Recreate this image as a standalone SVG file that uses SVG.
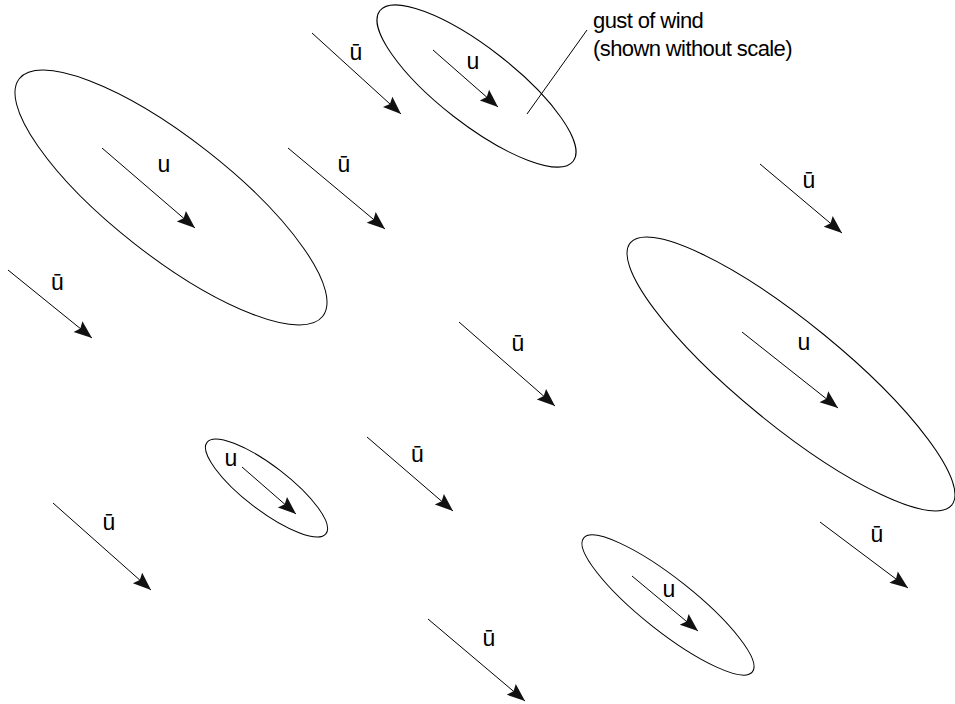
<svg xmlns="http://www.w3.org/2000/svg" width="955" height="704" viewBox="0 0 955 704">
<style>
.gust{fill:none;stroke:#000;stroke-width:1}
.arr{stroke:#000;stroke-width:1;fill:none;marker-end:url(#ah)}
.lbl{font-family:"Liberation Sans",Arial,sans-serif;font-size:23px;fill:#000;text-anchor:middle}
.note{font-family:"Liberation Sans",Arial,sans-serif;font-size:22px;letter-spacing:-0.6px;fill:#000}
.ptr{stroke:#000;stroke-width:1}
</style>
<defs>
<marker id="ah" markerUnits="userSpaceOnUse" markerWidth="20" markerHeight="16" refX="18" refY="7" orient="auto" overflow="visible">
<path d="M0,0 L18,7 L0,14 L3,7 Z" fill="#111"/>
</marker>
</defs>
<rect width="955" height="704" fill="#fff"/>

<g id="gust-top">
<ellipse class="gust" cx="476.5" cy="86" rx="122.5" ry="38" transform="rotate(37.9 476.5 86)"/>
<line class="arr" x1="433" y1="50" x2="498" y2="107"/>
<text class="lbl" x="473" y="69">u</text>
</g>
<g id="gust-left">
<ellipse class="gust" cx="171" cy="197.5" rx="192.7" ry="58.9" transform="rotate(38.05 171 197.5)"/>
<line class="arr" x1="102" y1="148" x2="195" y2="228"/>
<text class="lbl" x="164" y="172">u</text>
</g>
<g id="gust-right">
<ellipse class="gust" cx="791" cy="374" rx="207.4" ry="51.3" transform="rotate(39.2 791 374)"/>
<line class="arr" x1="742" y1="332" x2="838" y2="408"/>
<text class="lbl" x="804" y="350">u</text>
</g>
<g id="gust-small">
<ellipse class="gust" cx="266.5" cy="488" rx="75" ry="22.2" transform="rotate(37.5 266.5 488)"/>
<line class="arr" x1="242" y1="467" x2="296" y2="514"/>
<text class="lbl" x="231" y="466">u</text>
</g>
<g id="gust-bottom">
<ellipse class="gust" cx="668" cy="605" rx="107.7" ry="26.3" transform="rotate(38.4 668 605)"/>
<line class="arr" x1="632" y1="576" x2="698" y2="631"/>
<text class="lbl" x="669" y="597">u</text>
</g>

<g id="mean-1"><line class="arr" x1="312" y1="33" x2="401" y2="114"/><text class="lbl" x="356" y="60">ū</text></g>
<g id="mean-2"><line class="arr" x1="288" y1="148" x2="385" y2="229"/><text class="lbl" x="344" y="172">ū</text></g>
<g id="mean-3"><line class="arr" x1="8" y1="270" x2="92" y2="338"/><text class="lbl" x="57.5" y="290">ū</text></g>
<g id="mean-4"><line class="arr" x1="760" y1="164" x2="842" y2="233"/><text class="lbl" x="809" y="188">ū</text></g>
<g id="mean-5"><line class="arr" x1="459" y1="322" x2="555" y2="406"/><text class="lbl" x="518" y="351">ū</text></g>
<g id="mean-6"><line class="arr" x1="367" y1="437" x2="453" y2="511"/><text class="lbl" x="417.5" y="462">ū</text></g>
<g id="mean-7"><line class="arr" x1="53" y1="503" x2="151" y2="590"/><text class="lbl" x="109" y="530">ū</text></g>
<g id="mean-8"><line class="arr" x1="820" y1="522" x2="908" y2="588"/><text class="lbl" x="877" y="542">ū</text></g>
<g id="mean-9"><line class="arr" x1="428" y1="619" x2="525" y2="701"/><text class="lbl" x="489" y="646">ū</text></g>

<g id="note">
<line class="ptr" x1="587" y1="30" x2="527" y2="114"/>
<text class="note" x="593" y="28">gust of wind</text>
<text class="note" x="593" y="56">(shown without scale)</text>
</g>
</svg>
